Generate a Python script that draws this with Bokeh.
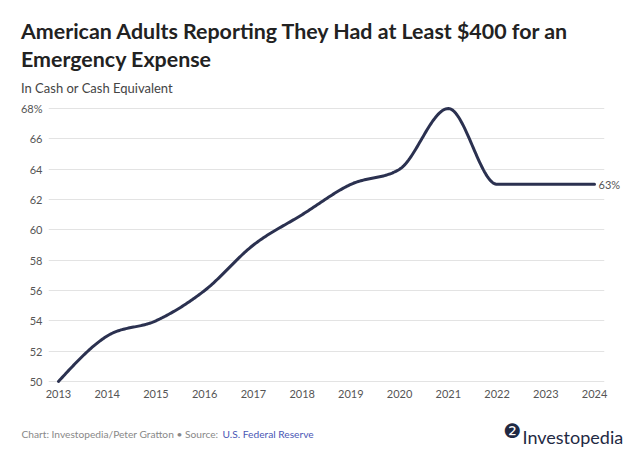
import numpy as np
from bokeh.plotting import figure
from bokeh.layouts import column
from bokeh.models import Range1d, FixedTicker, CustomJSTickFormatter, LinearAxis
from bokeh.core.properties import value
from bokeh.embed import file_html
from bokeh.resources import INLINE

years = [2013, 2014, 2015, 2016, 2017, 2018, 2019, 2020, 2021, 2022, 2023, 2024]
share = [50, 53, 54, 56, 59, 61, 63, 64, 68, 63, 63, 63]
y_ticks = [50, 52, 54, 56, 58, 60, 62, 64, 66, 68]
y_labels = ["50", "52", "54", "56", "58", "60", "62", "64", "66", "68%"]
x_labels = [str(y) for y in years]
end_label = "63%"

title_1 = "American Adults Reporting They Had at Least $400 for an"
title_2 = "Emergency Expense"
subtitle = "In Cash or Cash Equivalent"
credit = "Chart: Investopedia/Peter Gratton \u2022 Source:"
source = "U.S. Federal Reserve"
logo_icon = "\u2777"
logo_text = "Investopedia"


def monotone_x(xs, ys, n=40):
    xs = np.asarray(xs, float)
    ys = np.asarray(ys, float)
    h = np.diff(xs)
    s = np.diff(ys) / h
    t = np.zeros(len(xs))
    for i in range(1, len(xs) - 1):
        h0, h1, s0, s1 = h[i - 1], h[i], s[i - 1], s[i]
        p = (s0 * h1 + s1 * h0) / (h0 + h1)
        t[i] = (np.sign(s0) + np.sign(s1)) * min(abs(s0), abs(s1), 0.5 * abs(p))
    t[0] = (3 * s[0] - t[1]) / 2
    t[-1] = (3 * s[-1] - t[-2]) / 2
    px, py = [xs[0]], [ys[0]]
    u = np.linspace(0, 1, n)[1:]
    for i in range(len(xs) - 1):
        x0, x1, y0, y1, dx = xs[i], xs[i + 1], ys[i], ys[i + 1], h[i]
        cx = [x0, x0 + dx / 3, x1 - dx / 3, x1]
        cy = [y0, y0 + dx * t[i] / 3, y1 - dx * t[i + 1] / 3, y1]
        b = [(1 - u) ** 3, 3 * u * (1 - u) ** 2, 3 * u ** 2 * (1 - u), u ** 3]
        px.extend(sum(b[k] * cx[k] for k in range(4)))
        py.extend(sum(b[k] * cy[k] for k in range(4)))
    return px, py


W = 632
HEAD_H, MAIN_H, FOOT_H = 100, 306, 49


def text_panel(h):
    f = figure(width=W, height=h, output_backend="svg", toolbar_location=None,
               x_range=Range1d(0, W), y_range=Range1d(h, 0),
               x_axis_type=None, y_axis_type=None, title=None,
               min_border_left=0, min_border_right=0, min_border_top=0, min_border_bottom=0)
    f.outline_line_color = None
    f.xgrid.visible = False
    f.ygrid.visible = False
    f.frame_align = False
    return f


def put(f, x, y, text, size, color, bold=False, font="Lato", baseline="alphabetic", align="left"):
    f.text(x=[x], y=[y], text=[text], text_font=value(font), text_font_size=size,
           text_color=color, text_font_style="bold" if bold else "normal",
           text_baseline=baseline, text_align=align)


# header
head = text_panel(HEAD_H)
put(head, 20.5, 30, title_1, "21.4px", "#222222", bold=True)
put(head, 20.5, 58, title_2, "21.4px", "#222222", bold=True)
put(head, 20.5, 87, subtitle, "13px", "#444444")

# main chart
p = figure(width=W, height=MAIN_H, output_backend="svg", toolbar_location=None, title=None,
           x_range=Range1d(2012.795, 2024.205), y_range=Range1d(49.8, 68.2),
           min_border_left=48, min_border_right=28, min_border_top=5, min_border_bottom=22)
p.frame_align = False
p.outline_line_color = None
p.xgrid.grid_line_color = None
p.ygrid.grid_line_color = "#e3e3e3"
p.ygrid.grid_line_width = 1

right = LinearAxis(ticker=FixedTicker(ticks=[share[-1]]))
p.add_layout(right, "right")

fmt_code = "const i = tv.indexOf(tick); return i >= 0 ? tl[i] : '';"
p.yaxis[0].ticker = FixedTicker(ticks=y_ticks)
p.yaxis[0].formatter = CustomJSTickFormatter(args=dict(tv=y_ticks, tl=y_labels), code=fmt_code)
p.yaxis[0].major_label_standoff = 6
right.formatter = CustomJSTickFormatter(args=dict(tv=[share[-1]], tl=[end_label]), code=fmt_code)
right.major_label_standoff = -6
p.xaxis.ticker = FixedTicker(ticks=years)
p.xaxis.formatter = CustomJSTickFormatter(args=dict(tv=years, tl=x_labels), code=fmt_code)
p.xaxis.major_label_standoff = 5

for ax in list(p.xaxis) + list(p.yaxis):
    ax.axis_line_color = None
    ax.major_tick_line_color = None
    ax.minor_tick_line_color = None
    ax.major_tick_in = 0
    ax.major_tick_out = 0
    ax.major_label_text_font = "Lato"
    ax.major_label_text_font_size = "11px"
    ax.major_label_text_color = "#555555"

cx, cy = monotone_x(years, share)
p.line(cx, cy, line_color="#2b3150", line_width=3, line_cap="round", line_join="round")

# footer
foot = text_panel(FOOT_H)
put(foot, 21, 27, credit, "10.2px", "#888888")
put(foot, 222, 27, source, "10.2px", "#4a57b5")
put(foot, 512, 24, logo_icon, "20px", "#1f2a44", font="DejaVu Sans", baseline="middle", align="center")
put(foot, 522, 30, logo_text, "18px", "#1f2a44")

layout = column(head, p, foot, spacing=0)
open("out.html", "w").write(file_html(layout, INLINE))
